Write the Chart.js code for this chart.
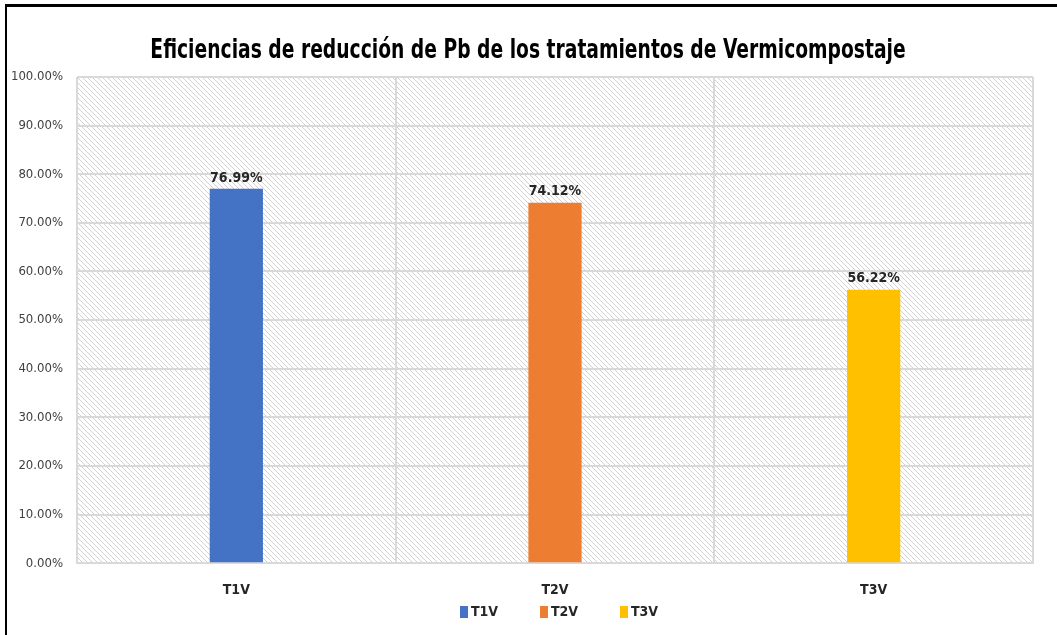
<!DOCTYPE html>
<html>
<head>
<meta charset="utf-8">
<script src="https://cdn.jsdelivr.net/npm/chart.js@4"></script>
<style>
    html, body { margin: 0; padding: 0; background: #fff; overflow: hidden; }
    #frame { position: absolute; left: 5px; top: 4px; width: 1060px; height: 640px; border-left: 2px solid #000; border-top: 3px solid #000; }
    #wrap { position: absolute; left: 0; top: 0; width: 1057px; height: 635px; }
</style>
</head>
<body>
<div id="frame"></div>
<div id="wrap"><canvas id="effChart"></canvas></div>
<script>
// data
const categories = ["T1V", "T2V", "T3V"];
const efficiencies = [76.99, 74.12, 56.22];
const barColors = ["#4472C4", "#ED7D31", "#FFC000"];
const yTicks = [0, 10, 20, 30, 40, 50, 60, 70, 80, 90, 100];
const chartTitle = "Eficiencias de reducción de Pb de los tratamientos de Vermicompostaje";

const FONT = "'Liberation Sans Narrow', 'DejaVu Sans Condensed', sans-serif";

// diagonal hatch for the plot area
function makeHatch(ctx) {
    const c = document.createElement("canvas");
    c.width = 5; c.height = 5;
    const g = c.getContext("2d");
    g.fillStyle = "#fff";
    g.fillRect(0, 0, 5, 5);
    g.strokeStyle = "#d2d2d2";
    g.lineWidth = 1;
    g.beginPath();
    g.moveTo(-1, -1); g.lineTo(6, 6);
    g.moveTo(4, -1); g.lineTo(6, 1);
    g.moveTo(-1, 4); g.lineTo(1, 6);
    g.stroke();
    return ctx.createPattern(c, "repeat");
}

const hatchBg = {
    id: "hatchBg",
    beforeDraw(chart) {
        const { ctx, chartArea: a } = chart;
        ctx.save();
        ctx.fillStyle = makeHatch(ctx);
        ctx.fillRect(a.left, a.top, a.right - a.left, a.bottom - a.top);
        ctx.restore();
    }
};

// narrow bold title, squeezed like the original Calibri
const narrowTitle = {
    id: "narrowTitle",
    afterDraw(chart) {
        const ctx = chart.ctx;
        ctx.save();
        ctx.font = "bold 26px " + FONT;
        ctx.fillStyle = "#000";
        ctx.textAlign = "center";
        ctx.textBaseline = "alphabetic";
        ctx.translate(528, 58);
        ctx.scale(0.8, 1);
        ctx.fillText(chartTitle, 0, 0);
        ctx.restore();
    }
};

const valueLabels = {
    id: "valueLabels",
    afterDatasetsDraw(chart) {
        const ctx = chart.ctx;
        const meta = chart.getDatasetMeta(0);
        ctx.save();
        ctx.font = "bold 14px " + FONT;
        ctx.fillStyle = "#262626";
        ctx.textAlign = "center";
        ctx.textBaseline = "bottom";
        meta.data.forEach((bar, i) => {
            ctx.fillText(efficiencies[i].toFixed(2) + "%", bar.x, bar.y - 4);
        });
        ctx.restore();
    }
};

// legend laid out like the Excel one (wide gaps, small boxes)
const bottomLegend = {
    id: "bottomLegend",
    afterDraw(chart) {
        const ctx = chart.ctx;
        ctx.save();
        ctx.font = "bold 14px " + FONT;
        ctx.textBaseline = "middle";
        ctx.textAlign = "left";
        categories.forEach((c, i) => {
            const x = 460 + i * 80;
            ctx.fillStyle = barColors[i];
            ctx.fillRect(x, 606, 8, 12);
            ctx.fillStyle = "#262626";
            ctx.fillText(c, x + 11, 612);
        });
        ctx.restore();
    }
};

new Chart(document.getElementById("effChart"), {
    type: "bar",
    data: {
        labels: categories,
        datasets: [{
            data: efficiencies,
            backgroundColor: barColors,
            barPercentage: 0.5,
            categoryPercentage: 0.334
        }]
    },
    options: {
        responsive: true,
        maintainAspectRatio: false,
        animation: false,
        layout: { padding: { left: 0, right: 24, top: 77, bottom: 17 } },
        scales: {
            x: {
                grid: { color: "#d9d9d9", lineWidth: 2, drawTicks: false },
                border: { color: "#d9d9d9", width: 2 },
                ticks: { color: "#262626", font: { family: FONT, size: 14, weight: "bold" }, padding: 19 }
            },
            y: {
                min: 0,
                max: 100,
                afterBuildTicks(scale) { scale.ticks = yTicks.map(v => ({ value: v })); },
                afterFit(scale) { scale.width = 77; },
                grid: { color: "#d9d9d9", lineWidth: 2, drawTicks: false },
                border: { display: false },
                ticks: {
                    color: "#404040",
                    padding: 14,
                    font: { family: FONT, size: 13 },
                    callback: v => v.toFixed(2) + "%"
                }
            }
        },
        plugins: {
            title: { display: false },
            legend: { display: false },
            tooltip: { enabled: false }
        }
    },
    plugins: [hatchBg, valueLabels, narrowTitle, bottomLegend]
});
</script>
</body>
</html>
